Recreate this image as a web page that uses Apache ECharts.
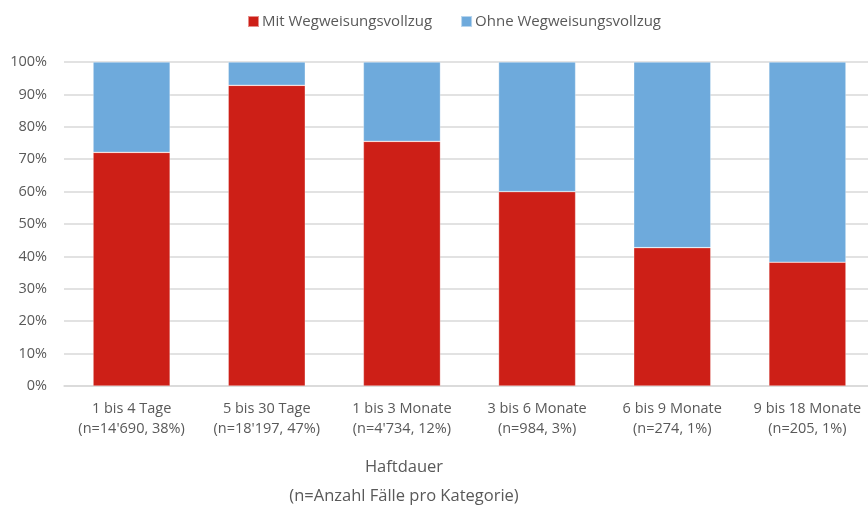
<!DOCTYPE html>
<html>
<head>
<meta charset="utf-8">
<script src="https://cdn.jsdelivr.net/npm/echarts@6/dist/echarts.min.js"></script>
<style>
  html, body { margin: 0; padding: 0; background: #fff; }
  #chart { width: 868px; height: 506px; }
</style>
</head>
<body>
<div id="chart"></div>
<script>
const categories = [
  '1 bis 4 Tage\n(n=14\'690, 38%)',
  '5 bis 30 Tage\n(n=18\'197, 47%)',
  '1 bis 3 Monate\n(n=4\'734, 12%)',
  '3 bis 6 Monate\n(n=984, 3%)',
  '6 bis 9 Monate\n(n=274, 1%)',
  '9 bis 18 Monate\n(n=205, 1%)'
]
const mitValues = [72.1, 92.8, 75.5, 60.0, 42.7, 38.2]
const ohneValues = [27.9, 7.2, 24.5, 40.0, 57.3, 61.8]
const seriesNames = ['Mit Wegweisungsvollzug', 'Ohne Wegweisungsvollzug']
const axisTitle = 'Haftdauer\n(n=Anzahl Fälle pro Kategorie)'

const font = '"Open Sans", "Noto Sans", sans-serif'
const textColor = '#595959'

const chart = echarts.init(document.getElementById('chart'), null, { renderer: 'canvas' })
chart.setOption({
  animation: false,
  textStyle: { fontFamily: font },
  legend: {
    data: seriesNames,
    top: 9,
    left: 242,
    itemWidth: 11,
    itemHeight: 11,
    itemGap: 28,
    icon: 'rect',
    textStyle: { color: textColor, fontSize: 15, fontFamily: font, padding: [0, 0, 0, -2] }
  },
  grid: {
    left: 64,
    top: 62,
    width: 811,
    height: 324,
    containLabel: false,
    outerBoundsMode: 'none'
  },
  xAxis: {
    type: 'category',
    data: categories,
    axisTick: { show: false },
    axisLine: { lineStyle: { color: '#d9d9d9', width: 1.5 } },
    axisLabel: {
      color: textColor,
      fontSize: 14.5,
      lineHeight: 20,
      margin: 13,
      fontFamily: font,
      interval: 0
    }
  },
  yAxis: {
    type: 'value',
    min: 0,
    max: 100,
    interval: 10,
    axisLine: { show: false },
    axisTick: { show: false },
    splitLine: { lineStyle: { color: '#d9d9d9', width: 1.5 } },
    axisLabel: {
      color: textColor,
      fontSize: 14.5,
      margin: 17,
      fontFamily: font,
      formatter: '{value}%'
    }
  },
  graphic: [{
    type: 'text',
    x: 404,
    y: 453,
    style: {
      text: axisTitle,
      textAlign: 'center',
      fill: textColor,
      fontSize: 16.5,
      lineHeight: 29,
      fontFamily: font
    }
  }],
  series: [
    {
      name: seriesNames[0],
      type: 'bar',
      stack: 'total',
      barWidth: '57%',
      itemStyle: { color: '#cd1f17', borderColor: 'rgba(255,255,255,0.5)', borderWidth: 0.6 },
      data: mitValues
    },
    {
      name: seriesNames[1],
      type: 'bar',
      stack: 'total',
      barWidth: '57%',
      itemStyle: { color: '#6eaadc', borderColor: 'rgba(255,255,255,0.5)', borderWidth: 0.6 },
      data: ohneValues
    }
  ]
})
</script>
</body>
</html>
